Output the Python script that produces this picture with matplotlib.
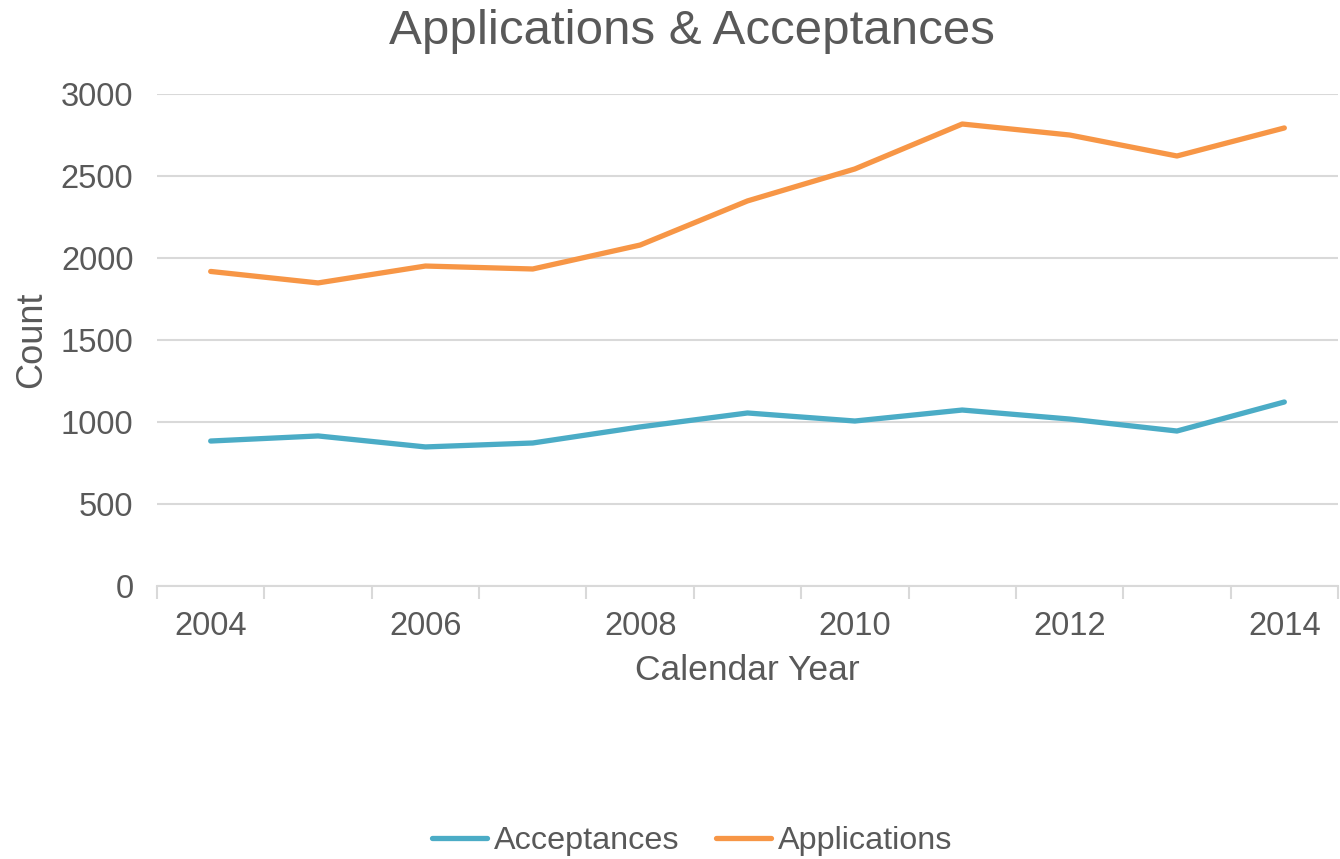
import numpy as np
import matplotlib
matplotlib.use("Agg")
import matplotlib.pyplot as plt
from matplotlib.ticker import FixedLocator

plt.rcParams['font.family'] = ['Liberation Sans', 'DejaVu Sans']

# dados
years = [2004, 2005, 2006, 2007, 2008, 2009, 2010, 2011, 2012, 2013, 2014]
acceptances = [884, 915, 848, 872, 970, 1055, 1006, 1073, 1018, 945, 1122]
applications = [1918, 1848, 1951, 1933, 2079, 2348, 2543, 2817, 2750, 2622, 2793]

text_color = '#595959'
grid_color = '#d9d9d9'

fig = plt.figure(figsize=(13.4, 8.59), dpi=100)
ax = fig.add_axes([157 / 1340, 1 - 586 / 859, (1338 - 157) / 1340, (586 - 94) / 859])

x = np.arange(len(years))
ax.plot(x, acceptances, color='#4BACC6', linewidth=3.8, solid_capstyle='round', label='Acceptances')
ax.plot(x, applications, color='#F79646', linewidth=3.8, solid_capstyle='round', label='Applications')

ax.set_xlim(-0.5, len(years) - 0.5)
ax.set_ylim(0, 3000)
ax.set_yticks(range(0, 3001, 500))
ax.yaxis.grid(True, color=grid_color, linewidth=1.5)
ax.set_axisbelow(True)

# rotulos so nos anos pares, marcas entre categorias
ax.set_xticks(x[::2])
ax.set_xticklabels([str(y) for y in years[::2]])
ax.xaxis.set_minor_locator(FixedLocator(np.arange(-0.5, len(years), 1.0)))
ax.tick_params(axis='x', which='major', length=0, pad=18, labelsize=23.5, labelcolor=text_color)
ax.tick_params(axis='x', which='minor', length=9, width=1.5, color=grid_color)
ax.tick_params(axis='y', length=0, pad=17, labelsize=23.5, labelcolor=text_color)

for s in ['top', 'right', 'left']:
    ax.spines[s].set_visible(False)
ax.spines['bottom'].set_color(grid_color)
ax.spines['bottom'].set_linewidth(1.5)

ax.set_xlabel('Calendar Year', fontsize=25.5, color=text_color, labelpad=9)
ax.set_ylabel('Count', fontsize=26, color=text_color, labelpad=8)
fig.text(692 / 1340, 1 - 32 / 859, 'Applications & Acceptances', fontsize=35.5,
         color=text_color, ha='center', va='center')

fig.legend(loc='center', bbox_to_anchor=(692 / 1340, 1 - 841 / 859), ncol=2, frameon=False,
           fontsize=23.3, labelcolor=text_color, handlelength=1.7, handletextpad=0.2,
           columnspacing=1.15)

plt.savefig('out.png', dpi=100, facecolor='white')
